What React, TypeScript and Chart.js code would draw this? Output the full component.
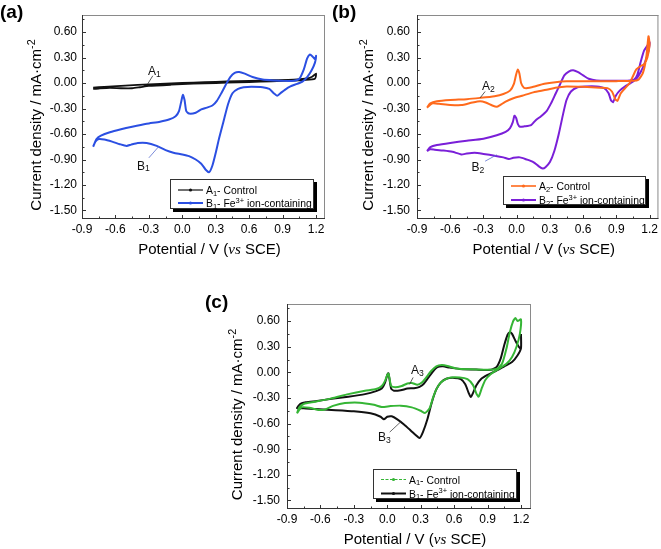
import { useEffect, useRef } from "react";
import { Chart, registerables } from "chart.js";

Chart.register(...registerables);

const W = 661;
const H = 549;
const FONT = "'Liberation Sans', Arial, Helvetica, sans-serif";
const SERIF = "'Liberation Serif', 'Times New Roman', serif";

// ---------- axes ----------
const xTickValues = [-0.9, -0.6, -0.3, 0.0, 0.3, 0.6, 0.9, 1.2];
const yTickValues = [0.6, 0.3, 0.0, -0.3, -0.6, -0.9, -1.2, -1.5];
const xMinorValues = [-0.75, -0.45, -0.15, 0.15, 0.45, 0.75, 1.05];
const yMinorValues = [0.75, 0.45, 0.15, -0.15, -0.45, -0.75, -1.05, -1.35];
const xTitle = "Potential / V (*vs* SCE)";
const yTitle = "Current density / mA·cm^{-2}";

// ---------- panel (a) ----------
const a1Potential = [-0.8, -0.7, -0.55, -0.4, -0.2, 0.0, 0.2, 0.4, 0.6, 0.8, 1.0, 1.1, 1.16, 1.2,
  1.19, 1.1, 0.9, 0.7, 0.5, 0.3, 0.1, -0.1, -0.3, -0.38, -0.45, -0.55, -0.65, -0.75, -0.8];
const a1Current = [-0.055, -0.045, -0.035, -0.022, -0.01, 0.0, 0.01, 0.018, 0.025, 0.033, 0.04, 0.05, 0.07, 0.11,
  0.05, 0.035, 0.025, 0.015, 0.008, 0.0, -0.008, -0.02, -0.035, -0.05, -0.062, -0.062, -0.058, -0.065, -0.07];

const b1Potential = [-0.8, -0.77, -0.73, -0.65, -0.55, -0.45, -0.32, -0.2, -0.12, -0.06, -0.03, -0.01, 0.005, 0.02,
  0.035, 0.06, 0.12, 0.17, 0.22, 0.27, 0.31, 0.35, 0.39, 0.43, 0.47, 0.51, 0.56, 0.63, 0.72, 0.82, 0.92, 1.0,
  1.05, 1.09, 1.12, 1.145, 1.17, 1.19, 1.2,
  1.19, 1.16, 1.12, 1.08, 1.03, 0.97, 0.92, 0.88, 0.85, 0.82, 0.78, 0.72, 0.62, 0.55, 0.5, 0.45, 0.41, 0.37,
  0.33, 0.3, 0.27, 0.24, 0.21, 0.17, 0.12, 0.06, 0.0, -0.08, -0.15, -0.23, -0.32, -0.4, -0.46, -0.5, -0.56,
  -0.63, -0.7, -0.75, -0.78, -0.8];
const b1Current = [-0.75, -0.66, -0.62, -0.58, -0.545, -0.515, -0.48, -0.455, -0.43, -0.39, -0.33, -0.22, -0.14, -0.2,
  -0.33, -0.36, -0.35, -0.31, -0.29, -0.265, -0.21, -0.12, -0.02, 0.07, 0.12, 0.13, 0.11, 0.07, 0.04, 0.03, 0.025, 0.027,
  0.05, 0.16, 0.29, 0.335, 0.31, 0.28, 0.32,
  0.24, 0.15, 0.07, 0.02, -0.01, -0.04, -0.08, -0.12, -0.15, -0.12, -0.07, -0.05, -0.045, -0.05, -0.07, -0.12, -0.25, -0.45,
  -0.65, -0.82, -0.97, -1.05, -1.02, -0.95, -0.9, -0.86, -0.84, -0.82, -0.79, -0.74, -0.705, -0.705, -0.725, -0.74, -0.72,
  -0.69, -0.665, -0.66, -0.69, -0.75];

// ---------- panel (b) ----------
const a2Potential = [-0.81, -0.78, -0.72, -0.6, -0.45, -0.33, -0.2, -0.12, -0.06, -0.025, -0.005, 0.01, 0.025, 0.04,
  0.065, 0.1, 0.15, 0.25, 0.35, 0.45, 0.7, 0.9, 1.05, 1.1, 1.14, 1.17, 1.19,
  1.2, 1.18, 1.15, 1.12, 1.08, 1.05, 1.02, 0.98, 0.94, 0.91, 0.89, 0.86, 0.82, 0.75, 0.6, 0.45, 0.35, 0.27, 0.15,
  0.05, -0.03, -0.1, -0.15, -0.18, -0.22, -0.28, -0.33, -0.4, -0.5, -0.6, -0.7, -0.76, -0.81];
const a2Current = [-0.29, -0.24, -0.215, -0.2, -0.19, -0.175, -0.155, -0.13, -0.09, -0.01, 0.1, 0.16, 0.11, 0.0,
  -0.055, -0.06, -0.045, -0.01, 0.01, 0.02, 0.022, 0.022, 0.025, 0.04, 0.12, 0.3, 0.55,
  0.45, 0.3, 0.22, 0.2, 0.16, 0.08, 0.0, -0.06, -0.12, -0.21, -0.19, -0.1, -0.06, -0.055, -0.045, -0.04, -0.055, -0.08, -0.11,
  -0.15, -0.18, -0.22, -0.26, -0.28, -0.265, -0.23, -0.215, -0.23, -0.26, -0.258, -0.245, -0.24, -0.29];

const b2Potential = [-0.81, -0.78, -0.72, -0.6, -0.45, -0.3, -0.18, -0.1, -0.06, -0.035, -0.02, -0.005, 0.01, 0.03,
  0.07, 0.13, 0.17, 0.22, 0.27, 0.31, 0.35, 0.39, 0.43, 0.47, 0.51, 0.55, 0.6, 0.65, 0.72, 0.85, 1.0, 1.06, 1.09,
  1.12, 1.15, 1.18, 1.2,
  1.19, 1.16, 1.12, 1.08, 1.03, 0.98, 0.93, 0.895, 0.87, 0.85, 0.83, 0.79, 0.72, 0.62, 0.55, 0.49, 0.45, 0.42,
  0.38, 0.34, 0.3, 0.26, 0.235, 0.2, 0.15, 0.09, 0.03, -0.03, -0.07, -0.12, -0.2, -0.3, -0.38, -0.45, -0.5, -0.58,
  -0.66, -0.74, -0.78, -0.81];
const b2Current = [-0.8, -0.755, -0.73, -0.705, -0.68, -0.655, -0.615, -0.575, -0.53, -0.46, -0.385, -0.41, -0.48, -0.515,
  -0.51, -0.495, -0.44, -0.39, -0.33, -0.24, -0.13, -0.02, 0.09, 0.135, 0.15, 0.13, 0.09, 0.05, 0.03, 0.027, 0.027, 0.04, 0.1,
  0.25, 0.38, 0.44, 0.48,
  0.38, 0.25, 0.13, 0.05, 0.0, -0.04, -0.09, -0.15, -0.225, -0.2, -0.12, -0.06, -0.04, -0.04, -0.05, -0.1, -0.2, -0.36,
  -0.6, -0.8, -0.93, -0.99, -1.005, -0.98, -0.93, -0.9, -0.875, -0.88, -0.895, -0.875, -0.855, -0.835, -0.822, -0.83, -0.84, -0.81,
  -0.795, -0.785, -0.78, -0.8];

// ---------- panel (c) ----------
const a3Potential = [-0.81, -0.79, -0.75, -0.65, -0.5, -0.35, -0.2, -0.1, -0.05, -0.02, 0.0, 0.01, 0.02, 0.035,
  0.07, 0.13, 0.18, 0.22, 0.27, 0.31, 0.35, 0.39, 0.44, 0.49, 0.54, 0.62, 0.75, 0.9, 0.98, 1.03, 1.07, 1.1, 1.13,
  1.15, 1.17, 1.2,
  1.19, 1.16, 1.12, 1.07, 1.0, 0.93, 0.88, 0.85, 0.82, 0.8, 0.77, 0.72, 0.65, 0.55, 0.48, 0.44, 0.41, 0.38, 0.34,
  0.3, 0.22, 0.12, 0.03, -0.05, -0.12, -0.25, -0.38, -0.48, -0.56, -0.62, -0.7, -0.77, -0.81];
const a3Current = [-0.48, -0.41, -0.37, -0.345, -0.305, -0.255, -0.215, -0.195, -0.16, -0.1, -0.03, -0.015, -0.07, -0.16,
  -0.175, -0.16, -0.13, -0.125, -0.145, -0.12, -0.06, 0.01, 0.07, 0.085, 0.075, 0.045, 0.035, 0.03, 0.04, 0.1, 0.28, 0.47, 0.6,
  0.635, 0.6, 0.62,
  0.45, 0.3, 0.18, 0.1, 0.04, -0.02, -0.09, -0.18, -0.285, -0.25, -0.15, -0.08, -0.06, -0.065, -0.12, -0.2, -0.3, -0.42, -0.475,
  -0.45, -0.41, -0.39, -0.395, -0.405, -0.38, -0.355, -0.36, -0.39, -0.435, -0.44, -0.415, -0.41, -0.48];

const b3Potential = [1.2, 1.2, 1.17, 1.12, 1.05, 0.98, 0.9, 0.84, 0.8, 0.77, 0.75, 0.73, 0.7, 0.66, 0.6, 0.53, 0.48,
  0.44, 0.4, 0.36, 0.32, 0.29, 0.26, 0.21, 0.15, 0.09, 0.04, 0.0, -0.03, -0.06, -0.15, -0.3, -0.5, -0.65, -0.75, -0.81,
  -0.78, -0.73, -0.63, -0.5, -0.35, -0.2, -0.1, -0.05, -0.02, 0.0, 0.01, 0.02, 0.035, 0.06, 0.12, 0.18, 0.24, 0.29,
  0.33, 0.37, 0.41, 0.45, 0.5, 0.56, 0.65, 0.8, 0.93, 0.98, 1.02, 1.05, 1.08, 1.1, 1.12, 1.15, 1.18, 1.2];
const b3Current = [0.45, 0.28, 0.2, 0.12, 0.07, 0.02, -0.03, -0.08, -0.15, -0.24, -0.29, -0.24, -0.14, -0.08, -0.065, -0.075, -0.12,
  -0.2, -0.35, -0.55, -0.7, -0.77, -0.74, -0.68, -0.61, -0.55, -0.515, -0.52, -0.55, -0.52, -0.48, -0.455, -0.44, -0.43, -0.42, -0.42,
  -0.37, -0.35, -0.335, -0.31, -0.285, -0.255, -0.22, -0.19, -0.12, -0.03, -0.01, -0.08, -0.19, -0.215, -0.21, -0.19, -0.185, -0.17,
  -0.13, -0.06, 0.01, 0.06, 0.07, 0.055, 0.04, 0.032, 0.03, 0.06, 0.17, 0.32, 0.44, 0.47, 0.45, 0.37, 0.3, 0.27];

// ---------- labels ----------
const panelLabels = ["(a)", "(b)", "(c)"];
const legendA = ["A_1- Control", "B_1- Fe^{3+} ion-containing"];
const legendB = ["A_2- Control", "B_2- Fe^{3+} ion-containing"];
const legendC = ["A_1- Control", "B_1- Fe^{3+} ion-containing"];
const notesA = ["A_1", "B_1"];
const notesB = ["A_2", "B_2"];
const notesC = ["A_3", "B_3"];

// ---------- rich text helpers ----------
type Seg = { t: string; k: "n" | "sub" | "sup" | "it" };
function parseRich(s: string): Seg[] {
  const out: Seg[] = [];
  let buf = "";
  let i = 0;
  const flush = () => { if (buf) { out.push({ t: buf, k: "n" }); buf = ""; } };
  while (i < s.length) {
    const c = s[i];
    if (c === "_") { flush(); out.push({ t: s[i + 1], k: "sub" }); i += 2; continue; }
    if (c === "^" && s[i + 1] === "{") {
      flush();
      const j = s.indexOf("}", i);
      out.push({ t: s.slice(i + 2, j), k: "sup" });
      i = j + 1; continue;
    }
    if (c === "*") {
      flush();
      const j = s.indexOf("*", i + 1);
      out.push({ t: s.slice(i + 1, j), k: "it" });
      i = j + 1; continue;
    }
    buf += c; i++;
  }
  flush();
  return out;
}
function segFont(k: string, size: number) {
  if (k === "sub" || k === "sup") return `${Math.round(size * 0.72 * 10) / 10}px ${FONT}`;
  if (k === "it") return `italic ${size}px ${SERIF}`;
  return `${size}px ${FONT}`;
}
function richWidth(ctx: CanvasRenderingContext2D, s: string, size: number) {
  let w = 0;
  for (const sg of parseRich(s)) { ctx.font = segFont(sg.k, size); w += ctx.measureText(sg.t).width; }
  return w;
}
function drawRich(ctx: CanvasRenderingContext2D, s: string, x: number, y: number, size: number, align: "left" | "center" = "left") {
  let cx = align === "center" ? x - richWidth(ctx, s, size) / 2 : x;
  ctx.textAlign = "left";
  ctx.textBaseline = "alphabetic";
  for (const sg of parseRich(s)) {
    ctx.font = segFont(sg.k, size);
    let dy = 0;
    if (sg.k === "sub") dy = size * 0.15;
    if (sg.k === "sup") dy = -size * 0.42;
    ctx.fillText(sg.t, cx, y + dy);
    cx += ctx.measureText(sg.t).width;
  }
}

// ---------- panel configs ----------
type Series = { label: string; xs: number[]; ys: number[]; color: string; width: number; legendWidth: number; dash?: number[] };
type PanelCfg = {
  L: number; R: number; T: number; B: number; xMax: number;
  yLabelPad: number; yTitleGap: number;
  tag: string; tagX: number; tagY: number;
  series: Series[];
  legend: { x: number; y: number; w: number; h: number; rows: number[] };
  notes: { text: string; at: [number, number]; line: [number, number, number, number]; lineColor: string }[];
};

const BLUE = "#2b4fe2";
const ORANGE = "#ff6a1c";
const PURPLE = "#7a1fd8";
const GREEN = "#35b535";
const BLACK = "#111111";

const panels: PanelCfg[] = [
  {
    L: 82, R: 325, T: 15, B: 219, xMax: 1.28, yLabelPad: 5, yTitleGap: 46,
    tag: panelLabels[0], tagX: 0, tagY: 18,
    series: [
      { label: legendA[1], xs: b1Potential, ys: b1Current, color: BLUE, width: 2, legendWidth: 2 },
      { label: legendA[0], xs: a1Potential, ys: a1Current, color: BLACK, width: 1.8, legendWidth: 1.2 },
    ],
    legend: { x: 170, y: 179, w: 144, h: 30, rows: [11, 24] },
    notes: [
      { text: notesA[0], at: [-0.25, 0.15], line: [-0.265, 0.085, -0.31, -0.01], lineColor: "#333" },
      { text: notesA[1], at: [-0.35, -0.96], line: [-0.3, -0.88, -0.21, -0.745], lineColor: "#5b6fd0" },
    ],
  },
  {
    L: 417, R: 659, T: 15, B: 219, xMax: 1.28, yLabelPad: 7, yTitleGap: 49,
    tag: panelLabels[1], tagX: 332, tagY: 18,
    series: [
      { label: legendB[0], xs: a2Potential, ys: a2Current, color: ORANGE, width: 2, legendWidth: 1.6 },
      { label: legendB[1], xs: b2Potential, ys: b2Current, color: PURPLE, width: 2, legendWidth: 2 },
    ],
    legend: { x: 503, y: 176, w: 143, h: 29, rows: [10, 24] },
    notes: [
      { text: notesB[0], at: [-0.255, -0.02], line: [-0.285, -0.1, -0.33, -0.175], lineColor: "#333" },
      { text: notesB[1], at: [-0.35, -0.98], line: [-0.285, -0.92, -0.18, -0.845], lineColor: "#5b6fd0" },
    ],
  },
  {
    L: 287, R: 531, T: 304, B: 509, xMax: 1.29, yLabelPad: 7, yTitleGap: 50,
    tag: panelLabels[2], tagX: 205, tagY: 308,
    series: [
      { label: legendC[0], xs: a3Potential, ys: a3Current, color: GREEN, width: 2, legendWidth: 1, dash: [3, 1.5] },
      { label: legendC[1], xs: b3Potential, ys: b3Current, color: BLACK, width: 2, legendWidth: 2 },
    ],
    legend: { x: 373, y: 469, w: 144, h: 30, rows: [10.5, 24.5] },
    notes: [
      { text: notesC[0], at: [0.27, 0.04], line: [0.232, -0.06, 0.2, -0.14], lineColor: "#333" },
      { text: notesC[1], at: [-0.025, -0.75], line: [0.022, -0.7, 0.118, -0.583], lineColor: "#444" },
    ],
  },
];

function makePlugin(cfg: PanelCfg) {
  return {
    id: "decor",
    afterDraw(chart: any) {
      const ctx: CanvasRenderingContext2D = chart.ctx;
      const ca = chart.chartArea;
      const xs = chart.scales.x;
      const ys = chart.scales.y;
      ctx.save();
      // frame
      ctx.lineWidth = 1;
      ctx.strokeStyle = "#8a8a8a";
      ctx.beginPath();
      ctx.moveTo(ca.left, ca.top + 0.5); ctx.lineTo(ca.right, ca.top + 0.5);
      ctx.moveTo(ca.right - 0.5, ca.top); ctx.lineTo(ca.right - 0.5, ca.bottom);
      ctx.stroke();
      ctx.strokeStyle = "#333";
      ctx.beginPath();
      ctx.moveTo(ca.left + 0.5, ca.top); ctx.lineTo(ca.left + 0.5, ca.bottom - 0.5); ctx.lineTo(ca.right, ca.bottom - 0.5);
      ctx.stroke();
      // inward ticks
      ctx.beginPath();
      for (const v of xTickValues) { const p = Math.round(xs.getPixelForValue(v)) + 0.5; ctx.moveTo(p, ca.bottom); ctx.lineTo(p, ca.bottom - 4); }
      for (const v of xMinorValues) { const p = Math.round(xs.getPixelForValue(v)) + 0.5; ctx.moveTo(p, ca.bottom); ctx.lineTo(p, ca.bottom - 2.5); }
      for (const v of yTickValues) { const p = Math.round(ys.getPixelForValue(v)) + 0.5; ctx.moveTo(ca.left, p); ctx.lineTo(ca.left + 4, p); }
      for (const v of yMinorValues) { const p = Math.round(ys.getPixelForValue(v)) + 0.5; ctx.moveTo(ca.left, p); ctx.lineTo(ca.left + 2.5, p); }
      ctx.stroke();

      ctx.fillStyle = "#000";
      // axis titles
      drawRich(ctx, xTitle, (ca.left + ca.right) / 2 + 6, ca.bottom + 35, 15, "center");
      ctx.save();
      ctx.translate(ca.left - cfg.yTitleGap, (ca.top + ca.bottom) / 2 + 8);
      ctx.rotate(-Math.PI / 2);
      drawRich(ctx, yTitle, 0, 5, 15, "center");
      ctx.restore();
      // panel tag
      ctx.font = `bold 19px ${FONT}`;
      ctx.textAlign = "left";
      ctx.fillText(cfg.tag, cfg.tagX, cfg.tagY);

      // annotations
      for (const n of cfg.notes) {
        ctx.strokeStyle = n.lineColor;
        ctx.lineWidth = 0.8;
        ctx.beginPath();
        ctx.moveTo(xs.getPixelForValue(n.line[0]), ys.getPixelForValue(n.line[1]));
        ctx.lineTo(xs.getPixelForValue(n.line[2]), ys.getPixelForValue(n.line[3]));
        ctx.stroke();
        ctx.fillStyle = "#111";
        drawRich(ctx, n.text, xs.getPixelForValue(n.at[0]), ys.getPixelForValue(n.at[1]) + 5, 12, "center");
      }

      // legend box
      const lg = cfg.legend;
      ctx.fillStyle = "#000";
      ctx.fillRect(lg.x + 3, lg.y + 3, lg.w, lg.h);
      ctx.fillStyle = "#fff";
      ctx.fillRect(lg.x, lg.y, lg.w, lg.h);
      ctx.strokeStyle = "#333";
      ctx.lineWidth = 1;
      ctx.strokeRect(lg.x + 0.5, lg.y + 0.5, lg.w - 1, lg.h - 1);
      const order = [...cfg.series].sort((a, b) => (a.label < b.label ? -1 : 1));
      order.forEach((s, i) => {
        const ry = lg.y + lg.rows[i];
        ctx.strokeStyle = s.color;
        ctx.lineWidth = s.legendWidth;
        ctx.setLineDash(s.dash || []);
        ctx.beginPath();
        ctx.moveTo(lg.x + 8, ry); ctx.lineTo(lg.x + 33, ry);
        ctx.stroke();
        ctx.setLineDash([]);
        ctx.fillStyle = s.color;
        ctx.beginPath(); ctx.arc(lg.x + 20.5, ry, 1.6, 0, Math.PI * 2); ctx.fill();
        ctx.fillStyle = "#000";
        drawRich(ctx, s.label, lg.x + 36, ry + 4, 10.4);
      });
      ctx.restore();
    },
  };
}

function Panel({ cfg }: { cfg: PanelCfg }) {
  const ref = useRef<HTMLCanvasElement | null>(null);
  useEffect(() => {
    if (!ref.current) return;
    const yW = 40;
    const xH = 20;
    const chart = new Chart(ref.current, {
      type: "scatter",
      data: {
        datasets: cfg.series.map((s) => ({
          label: s.label,
          data: s.xs.map((x, i) => ({ x, y: s.ys[i] })),
          showLine: true,
          borderColor: s.color,
          backgroundColor: s.color,
          borderWidth: s.width,
          pointRadius: 0,
          tension: 0.2,
          fill: false,
        })),
      },
      options: {
        animation: false,
        responsive: false,
        devicePixelRatio: 1,
        events: [],
        layout: {
          autoPadding: false,
          padding: { left: cfg.L - yW, top: cfg.T, right: W - cfg.R, bottom: H - cfg.B - xH },
        },
        plugins: { legend: { display: false }, tooltip: { enabled: false } },
        scales: {
          x: {
            type: "linear",
            min: -0.9,
            max: cfg.xMax,
            grid: { display: false, drawTicks: false },
            border: { display: false },
            afterFit: (sc: any) => { sc.height = xH; },
            afterBuildTicks: (sc: any) => { sc.ticks = xTickValues.map((v) => ({ value: v })); },
            ticks: {
              color: "#000",
              padding: 3,
              maxRotation: 0,
              autoSkip: false,
              font: { family: FONT, size: 12 },
              callback: (v: any) => Number(v).toFixed(1),
            },
          },
          y: {
            type: "linear",
            min: -1.6,
            max: 0.8,
            grid: { display: false, drawTicks: false },
            border: { display: false },
            afterFit: (sc: any) => { sc.width = yW; },
            afterBuildTicks: (sc: any) => { sc.ticks = yTickValues.map((v) => ({ value: v })); },
            ticks: {
              color: "#000",
              padding: cfg.yLabelPad,
              autoSkip: false,
              font: { family: FONT, size: 12 },
              callback: (v: any) => Number(v).toFixed(2),
            },
          },
        },
      } as any,
      plugins: [makePlugin(cfg)],
    });
    return () => chart.destroy();
  }, [cfg]);
  return (
    <canvas
      ref={ref}
      width={W}
      height={H}
      style={{ position: "absolute", left: 0, top: 0, width: W, height: H }}
    />
  );
}

export default function App() {
  return (
    <div style={{ position: "absolute", left: 0, top: 0, width: W, height: H, background: "#fff", overflow: "hidden" }}>
      {panels.map((p, i) => (
        <Panel key={i} cfg={p} />
      ))}
    </div>
  );
}
